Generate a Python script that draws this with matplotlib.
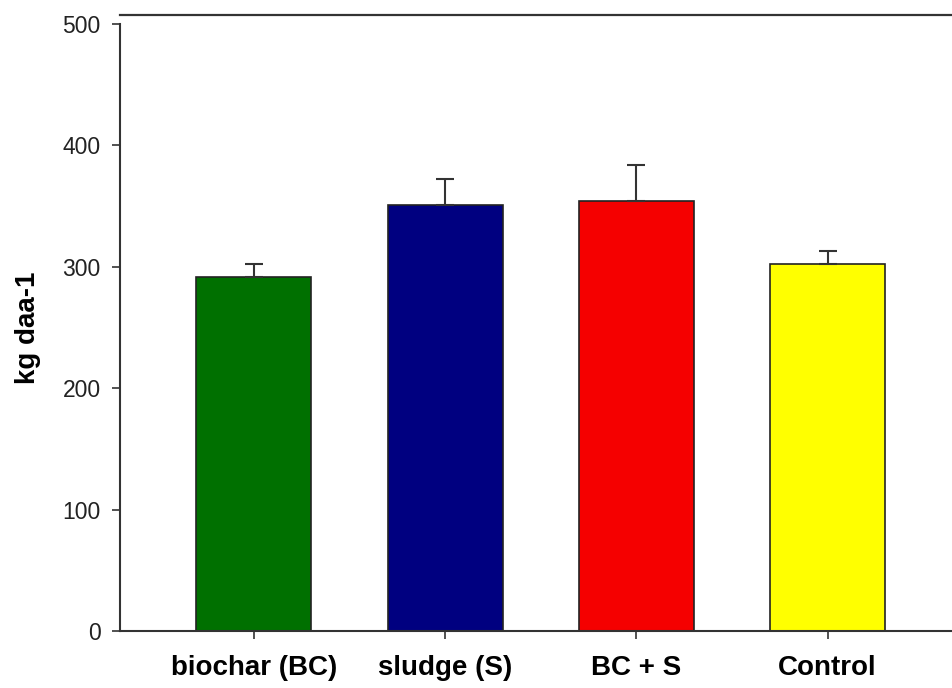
import matplotlib
matplotlib.use("Agg")
import matplotlib.pyplot as plt
import numpy as np

# values
treatments = ["biochar (BC)", "sludge (S)", "BC + S", "Control"]
yield_mean = [292, 351, 354, 302]
yield_err = [10, 21, 30, 11]
bar_colors = ["#007000", "#000080", "#f50000", "#ffff00"]
y_ticks = [0, 100, 200, 300, 400, 500]

plt.rcParams["font.family"] = ["Liberation Sans", "DejaVu Sans"]

fig = plt.figure(figsize=(9.52, 6.88), dpi=100)
ax = fig.add_axes([0.126, 0.083, 0.874, 0.882])

x = np.arange(len(treatments))
ax.bar(x, yield_mean, width=0.6, color=bar_colors, edgecolor="#222222",
       linewidth=1.2, zorder=2)
# only the upper half of the error bar is drawn
ax.errorbar(x, yield_mean, yerr=[np.zeros(len(x)), yield_err], fmt="none",
            ecolor="#333333", elinewidth=1.5, capsize=6.5, capthick=1.5, zorder=3)

ax.set_xlim(-0.70, 3.65)
ax.set_ylim(0, 500)
ax.set_yticks(y_ticks)
ax.set_xticks(x)
ax.set_xticklabels(treatments, fontsize=20, fontweight="bold")
ax.tick_params(axis="y", labelsize=16.5, length=6, width=1.2, color="#333333",
               pad=8, labelcolor="#222222")
ax.tick_params(axis="x", length=6, width=1.2, color="#333333", pad=11)
ax.set_ylabel("kg daa-1", fontsize=20, fontweight="bold", labelpad=15)

for side in ["top", "right"]:
    ax.spines[side].set_visible(False)
for side in ["left", "bottom"]:
    ax.spines[side].set_color("#333333")
    ax.spines[side].set_linewidth(1.5)

# frame line above the plot area
fig.add_artist(plt.Line2D([0.126, 1.0], [0.978, 0.978], color="#333333",
                          linewidth=1.6, transform=fig.transFigure))

fig.savefig("out.png", dpi=100)
